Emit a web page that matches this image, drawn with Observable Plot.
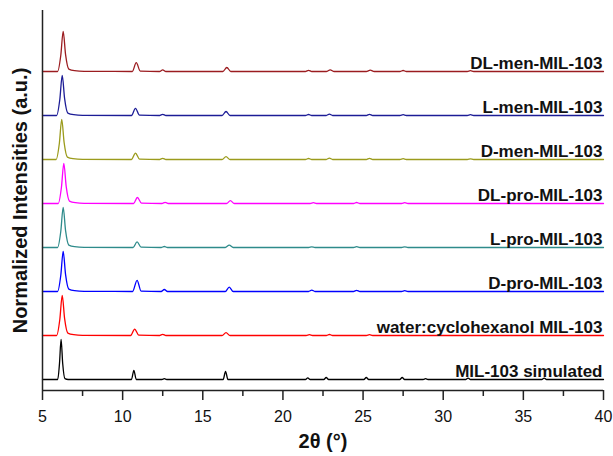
<!DOCTYPE html>
<html><head><meta charset="utf-8">
<script src="https://cdn.jsdelivr.net/npm/d3@7"></script>
<script src="https://cdn.jsdelivr.net/npm/@observablehq/plot@0.6"></script>
<style>body{margin:0;background:#fff}</style>
</head><body><div id="chart"></div>
<script>
// Series, bottom to top
const seriesNames = ["MIL-103 simulated","water:cyclohexanol MIL-103","D-pro-MIL-103","L-pro-MIL-103","DL-pro-MIL-103","D-men-MIL-103","L-men-MIL-103","DL-men-MIL-103"];
const seriesColors = ["#000000","#ff0000","#0000ff","#2e8b8b","#ff00ff","#9b9b1c","#1c1c96","#9b1c20"];

// [2θ, normalized intensity]
const simulated = [[5,0],[5.95,0],[6.06,0.4],[6.16,1],[6.26,0.4],[6.4,0.02],[6.6,0],[10.55,0],[10.7,0.23],[10.85,0],[12.45,0],[12.6,0.02],[12.75,0],[16.27,0],[16.42,0.2],[16.57,0],[21.4,0],[21.55,0.04],[21.7,0],[22.55,0],[22.7,0.05],[22.85,0],[25.05,0],[25.2,0.05],[25.35,0],[27.29,0],[27.44,0.05],[27.59,0],[28.75,0],[28.9,0.02],[29.05,0],[31.4,0],[31.55,0.035],[31.7,0],[36.15,0],[36.3,0.035],[36.45,0],[40,0]];
const waterCyclohexanol = [[5,0],[5.88,0],[6.08,0.4],[6.23,1],[6.38,0.42],[6.58,0.06],[6.95,0.02],[7.5,0.005],[10.5,0],[10.75,0.16],[11.0,0.01],[12.3,0],[12.5,0.03],[12.7,0],[16.2,0],[16.45,0.07],[16.7,0],[21.45,0],[21.65,0.02],[21.85,0],[22.7,0],[22.9,0.025],[23.1,0],[25.2,0],[25.4,0.02],[25.6,0],[40,0]];
const dPro = [[5,0],[5.94,0],[6.14,0.4],[6.29,1],[6.44,0.42],[6.64,0.06],[7.0,0.02],[7.6,0.005],[10.62,0],[10.9,0.28],[11.15,0.01],[12.4,0],[12.6,0.05],[12.8,0],[16.4,0],[16.65,0.11],[16.9,0],[21.6,0],[21.8,0.035],[22.0,0],[24.4,0],[24.6,0.03],[24.8,0],[27.4,0],[27.6,0.02],[27.8,0],[40,0]];
const lPro = [[5,0],[5.94,0],[6.14,0.4],[6.29,1],[6.44,0.42],[6.64,0.06],[7.0,0.02],[7.6,0.005],[10.65,0],[10.9,0.14],[11.15,0.01],[12.4,0],[12.6,0.025],[12.8,0],[16.4,0],[16.65,0.06],[16.9,0],[21.6,0],[21.8,0.015],[22.0,0],[24.4,0],[24.6,0.02],[24.8,0],[27.4,0],[27.6,0.015],[27.8,0],[40,0]];
const dlPro = [[5,0],[5.98,0],[6.18,0.4],[6.33,1],[6.48,0.42],[6.68,0.06],[7.05,0.02],[7.6,0.005],[10.68,0],[10.92,0.15],[11.17,0.01],[12.45,0],[12.65,0.03],[12.85,0],[16.48,0],[16.72,0.07],[16.97,0],[21.7,0],[21.9,0.02],[22.1,0],[24.4,0],[24.6,0.025],[24.8,0],[27.4,0],[27.6,0.02],[27.8,0],[40,0]];
const dMen = [[5,0],[5.85,0],[6.05,0.4],[6.2,1],[6.35,0.42],[6.55,0.06],[6.9,0.02],[7.5,0.005],[10.55,0],[10.8,0.16],[11.05,0.01],[12.3,0],[12.5,0.03],[12.7,0],[16.2,0],[16.45,0.07],[16.7,0],[21.4,0],[21.6,0.025],[21.8,0],[22.7,0],[22.9,0.035],[23.1,0],[25.2,0],[25.4,0.03],[25.6,0],[27.3,0],[27.5,0.02],[27.7,0],[31.5,0],[31.7,0.015],[31.9,0],[40,0]];
const lMen = [[5,0],[5.88,0],[6.08,0.4],[6.23,1],[6.38,0.42],[6.58,0.06],[6.95,0.02],[7.5,0.005],[10.55,0],[10.8,0.18],[11.05,0.01],[12.3,0],[12.5,0.03],[12.7,0],[16.2,0],[16.45,0.1],[16.7,0],[21.4,0],[21.6,0.025],[21.8,0],[22.7,0],[22.9,0.035],[23.1,0],[25.2,0],[25.4,0.03],[25.6,0],[27.3,0],[27.5,0.02],[27.7,0],[31.5,0],[31.7,0.02],[31.9,0],[40,0]];
const dlMen = [[5,0],[5.94,0],[6.14,0.4],[6.29,1],[6.44,0.42],[6.64,0.06],[7.0,0.02],[7.6,0.005],[10.6,0],[10.85,0.22],[11.1,0.01],[12.3,0],[12.5,0.04],[12.7,0],[16.25,0],[16.5,0.1],[16.75,0],[21.4,0],[21.6,0.03],[21.8,0],[22.7,0],[22.95,0.04],[23.2,0],[25.2,0],[25.45,0.035],[25.7,0],[27.3,0],[27.5,0.025],[27.7,0],[31.5,0],[31.7,0.02],[31.9,0],[40,0]];

const xTicks = [5,10,15,20,25,30,35,40];
const xMinorTicks = [7.5,12.5,17.5,22.5,27.5,32.5,37.5];
const xLabel = "2θ (°)";
const yLabel = "Normalized Intensities (a.u.)";

const patterns = [simulated, waterCyclohexanol, dPro, lPro, dlPro, dMen, lMen, dlMen];
const step = 1.1;
const rows = patterns.flatMap((pts, i) => pts.map(([t, v]) => ({series: seriesNames[i], t, y: v + i * step})));
const labels = seriesNames.map((name, i) => ({name, y: i * step}));

const font = "'Liberation Sans', Arial, Helvetica, sans-serif";
const yMin = -0.275;

const chart = Plot.plot({
  width: 613, height: 456,
  marginLeft: 42, marginRight: 10, marginTop: 10, marginBottom: 66,
  style: {fontFamily: font, background: "#fff", color: "#111"},
  x: {domain: [5, 40], axis: null},
  y: {domain: [yMin, yMin + 9.5], axis: null},
  color: {domain: seriesNames, range: seriesColors},
  marks: [
    Plot.line(rows, {x: "t", y: "y", z: "series", stroke: "series", strokeWidth: 1.3, curve: "monotone-x"}),
    Plot.text(labels, {x: 40, y: "y", text: "name", textAnchor: "end", lineAnchor: "bottom", dx: -1, dy: -3, fontWeight: "bold", fontSize: 17, fill: "#111"}),
    Plot.ruleX([5], {stroke: "#222", strokeWidth: 1.5}),
    Plot.ruleY([yMin], {stroke: "#222", strokeWidth: 1.5}),
    Plot.axisX(xTicks, {anchor: "bottom", label: null, tickSize: 10, tickPadding: 10, fontSize: 16, strokeWidth: 1.5, stroke: "#222", fill: "#111"}),
    Plot.axisX(xMinorTicks, {anchor: "bottom", label: null, tickSize: 6, strokeWidth: 1.5, stroke: "#222", tickFormat: () => ""}),
    Plot.text([xLabel], {frameAnchor: "bottom", dy: 57, fontWeight: "bold", fontSize: 20, fill: "#111"}),
    Plot.text([yLabel], {frameAnchor: "left", textAnchor: "middle", rotate: -90, dx: -22, dy: 0, fontWeight: "bold", fontSize: 20, fill: "#111"})
  ]
});
document.getElementById("chart").append(chart);
</script>
</body></html>
